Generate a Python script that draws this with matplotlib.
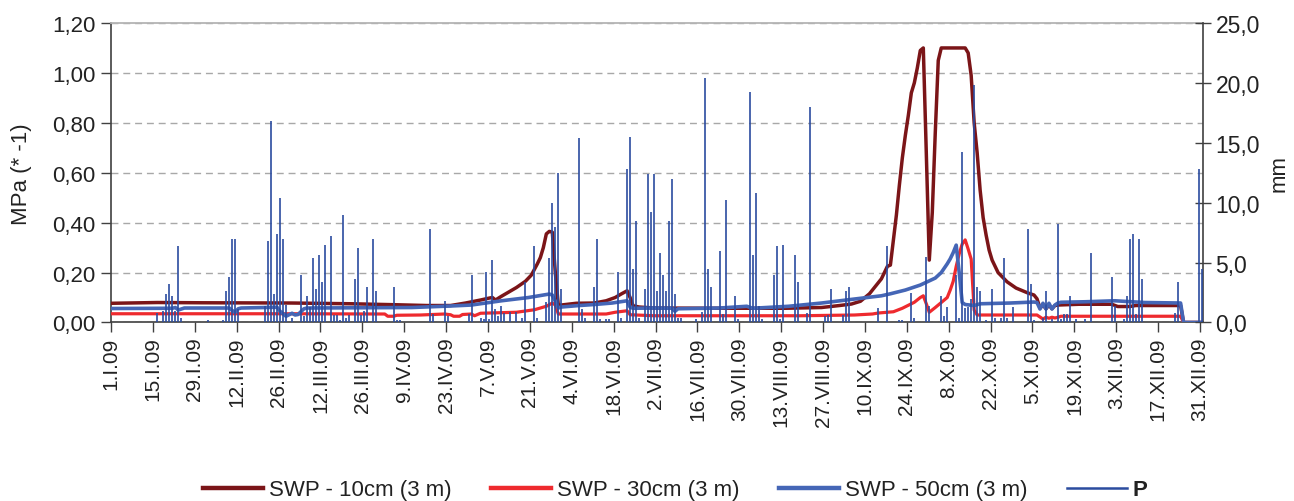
import matplotlib
matplotlib.use("Agg")
import matplotlib.pyplot as plt
from matplotlib.lines import Line2D
from matplotlib.ticker import FuncFormatter, MultipleLocator
import numpy as np

plt.rcParams["font.family"] = ["Liberation Sans", "DejaVu Sans"]

# x axis: day of year 2009 (0 = 1 January), one label every 14 days
tick_days = list(range(0, 365, 14))
tick_labels = ["1.I.09", "15.I.09", "29.I.09", "12.II.09", "26.II.09", "12.III.09",
               "26.III.09", "9.IV.09", "23.IV.09", "7.V.09", "21.V.09", "4.VI.09",
               "18.VI.09", "2.VII.09", "16.VII.09", "30.VII.09", "13.VIII.09",
               "27.VIII.09", "10.IX.09", "24.IX.09", "8.X.09", "22.X.09", "5.XI.09",
               "19.XI.09", "3.XII.09", "17.XII.09", "31.XII.09"]

# soil water potential, MPa (* -1), (day, value)
swp10 = [(0, 0.077), (15, 0.080), (30, 0.079), (60, 0.078), (80, 0.075), (95, 0.071),
         (105, 0.068), (113, 0.068), (118, 0.078), (123, 0.090), (126, 0.098), (127, 0.100),
         (128, 0.090), (130, 0.105), (135, 0.140), (138, 0.165), (140, 0.190), (142, 0.235),
         (143, 0.260), (144, 0.300), (145, 0.355), (146, 0.365), (147, 0.362), (148, 0.200),
         (149, 0.070), (150, 0.070), (155, 0.077), (161, 0.078), (165, 0.087), (168, 0.100),
         (170, 0.114), (172, 0.127), (173, 0.100), (174, 0.067), (176, 0.062), (181, 0.058),
         (203, 0.057), (225, 0.057), (237, 0.060), (243, 0.068), (247, 0.074), (250, 0.085),
         (253, 0.115), (256, 0.160), (257, 0.175), (258, 0.200), (259, 0.225), (260, 0.230),
         (261, 0.330), (262, 0.430), (263, 0.550), (264, 0.660), (265, 0.750), (266, 0.830),
         (267, 0.920), (268, 0.960), (269, 1.020), (270, 1.090), (271, 1.100), (272, 0.680),
         (273, 0.250), (274, 0.440), (275, 0.760), (276, 1.050), (277, 1.100), (285, 1.100),
         (286, 1.080), (287, 0.990), (288, 0.800), (289, 0.680), (290, 0.530), (291, 0.420),
         (292, 0.350), (293, 0.290), (294, 0.250), (296, 0.200), (299, 0.163), (302, 0.138),
         (306, 0.118), (308, 0.110), (309, 0.095), (310, 0.058), (311, 0.070), (312, 0.055),
         (313, 0.070), (314, 0.055), (315, 0.068), (316, 0.070), (323, 0.073), (334, 0.073),
         (336, 0.064), (340, 0.064), (342, 0.068), (357, 0.068), (358, 0.0), (364, 0.0)]

swp30 = [(0, 0.035), (30, 0.035), (60, 0.035), (91, 0.034), (92, 0.025), (94, 0.025),
         (95, 0.029), (103, 0.030), (111, 0.034), (113, 0.031), (114, 0.025), (116, 0.025),
         (117, 0.032), (120, 0.034), (121, 0.027), (123, 0.037), (135, 0.041), (141, 0.051),
         (145, 0.065), (147, 0.078), (148, 0.070), (149, 0.034), (150, 0.034), (165, 0.034),
         (168, 0.041), (170, 0.044), (172, 0.047), (173, 0.031), (181, 0.027), (230, 0.027),
         (248, 0.030), (254, 0.034), (256, 0.038), (261, 0.043), (264, 0.057), (268, 0.081),
         (270, 0.100), (271, 0.107), (272, 0.075), (273, 0.041), (275, 0.060), (277, 0.080),
         (279, 0.100), (280, 0.130), (281, 0.165), (282, 0.225), (283, 0.275), (284, 0.314),
         (285, 0.331), (286, 0.294), (287, 0.254), (288, 0.050), (289, 0.030), (300, 0.030),
         (309, 0.030), (310, 0.022), (311, 0.014), (312, 0.021), (313, 0.017), (314, 0.021),
         (315, 0.018), (316, 0.021), (317, 0.025), (357, 0.025), (358, 0.0), (364, 0.0)]

swp50 = [(0, 0.056), (20, 0.057), (21, 0.060), (22, 0.050), (24, 0.058), (39, 0.058),
         (40, 0.048), (41, 0.041), (42, 0.055), (43, 0.058), (55, 0.061), (56, 0.045),
         (58, 0.025), (60, 0.037), (61, 0.030), (62, 0.032), (64, 0.055), (65, 0.058),
         (100, 0.060), (113, 0.066), (120, 0.070), (130, 0.087), (139, 0.100), (146, 0.114),
         (147, 0.110), (148, 0.085), (149, 0.058), (150, 0.062), (156, 0.068), (161, 0.072),
         (167, 0.078), (172, 0.087), (173, 0.061), (174, 0.057), (181, 0.058), (187, 0.057),
         (188, 0.045), (189, 0.055), (203, 0.058), (212, 0.065), (214, 0.057), (226, 0.065),
         (237, 0.078), (248, 0.094), (257, 0.107), (260, 0.115), (265, 0.130), (270, 0.150),
         (275, 0.178), (277, 0.200), (279, 0.235), (280, 0.255), (281, 0.280), (282, 0.310),
         (283, 0.200), (284, 0.080), (285, 0.072), (288, 0.068), (290, 0.075), (300, 0.078),
         (308, 0.082), (309, 0.080), (310, 0.054), (311, 0.077), (312, 0.054), (313, 0.077),
         (314, 0.054), (315, 0.070), (316, 0.078), (317, 0.081), (325, 0.083), (335, 0.087),
         (345, 0.080), (357, 0.078), (358, 0.0), (364, 0.0)]

# daily precipitation P, mm (day, value)
precip = [(15, 0.8), (17, 1.0), (18, 2.4), (19, 3.2), (20, 2.2), (21, 1.0), (22, 6.4),
          (23, 0.4), (32, 0.2), (37, 0.2), (38, 2.6), (39, 3.8), (40, 7.0), (41, 7.0),
          (42, 1.1), (51, 1.4), (52, 6.8), (53, 16.8), (54, 2.4), (55, 7.4), (56, 10.4),
          (57, 7.0), (58, 1.5), (60, 0.4), (63, 4.0), (64, 0.5), (65, 2.2), (66, 1.3),
          (67, 5.4), (68, 2.8), (69, 5.6), (70, 3.4), (71, 6.5), (73, 7.2), (74, 0.6),
          (75, 0.6), (76, 0.2), (77, 9.0), (78, 0.4), (79, 0.6), (81, 3.6), (82, 6.2),
          (83, 0.6), (84, 1.0), (85, 3.0), (87, 7.0), (88, 2.6), (94, 3.0), (95, 0.2),
          (96, 0.2), (106, 7.8), (107, 0.7), (111, 1.8), (112, 0.5), (119, 0.7), (120, 4.0),
          (123, 0.4), (124, 0.3), (125, 4.2), (126, 0.3), (127, 5.2), (128, 1.1), (129, 0.5),
          (130, 1.4), (131, 0.8), (133, 0.9), (135, 0.9), (137, 0.4), (138, 3.4), (141, 6.4),
          (142, 0.4), (145, 1.7), (146, 5.4), (147, 10.0), (148, 8.0), (149, 12.5), (150, 2.8),
          (156, 15.4), (157, 1.1), (158, 0.4), (161, 3.0), (162, 7.0), (163, 0.3), (165, 0.3),
          (166, 0.3), (169, 4.2), (170, 0.4), (172, 12.8), (173, 15.5), (174, 4.5), (175, 8.5),
          (176, 0.4), (178, 2.8), (179, 12.4), (180, 9.2), (181, 12.4), (182, 2.6), (183, 5.8),
          (184, 4.0), (185, 2.6), (186, 8.5), (187, 12.0), (188, 2.4), (189, 0.4), (190, 0.4),
          (195, 0.3), (197, 0.9), (198, 20.4), (199, 4.5), (200, 3.0), (203, 6.0), (204, 0.7),
          (205, 10.2), (208, 2.2), (209, 0.3), (213, 19.2), (214, 5.6), (215, 10.8), (216, 1.4),
          (217, 0.3), (221, 4.0), (222, 6.4), (223, 0.3), (224, 6.5), (228, 5.6), (229, 3.4),
          (232, 0.8), (233, 18.0), (238, 0.5), (239, 0.6), (240, 2.8), (244, 0.6), (245, 2.6),
          (246, 3.0), (256, 1.2), (259, 6.4), (263, 0.2), (264, 0.2), (267, 2.5), (268, 0.4),
          (272, 5.5), (273, 1.4), (277, 2.2), (278, 0.5), (279, 1.3), (282, 4.0), (283, 0.4),
          (284, 14.2), (285, 1.2), (286, 1.3), (287, 2.0), (288, 19.8), (289, 3.0), (290, 2.6),
          (292, 0.2), (294, 2.8), (295, 0.4), (297, 0.4), (298, 5.4), (299, 0.4), (301, 1.3),
          (306, 7.8), (307, 3.2), (308, 0.2), (311, 0.4), (312, 2.6), (314, 0.3), (316, 8.2),
          (317, 0.3), (318, 0.7), (319, 0.7), (320, 2.2), (322, 0.3), (325, 0.3), (327, 5.8),
          (334, 3.8), (335, 1.4), (338, 0.3), (339, 2.2), (340, 7.0), (341, 7.4), (342, 0.7),
          (343, 7.0), (344, 3.6), (355, 0.8), (356, 3.4), (363, 12.8), (364, 4.5)]

series_names = ["SWP - 10cm (3 m)", "SWP - 30cm (3 m)", "SWP - 50cm (3 m)", "P"]
c_swp10 = "#7b1518"
c_swp30 = "#ee2a2e"
c_swp50 = "#4566b6"
c_p = "#2b4c9f"
axis_col = "#404040"
text_col = "#222222"

fig = plt.figure(figsize=(12.94, 5.02), dpi=100)
ax = fig.add_axes([0.0858, 0.3556, 0.8439, 0.5966])

for data, col, lw in [(swp10, c_swp10, 2.5), (swp30, c_swp30, 2.3), (swp50, c_swp50, 2.6)]:
    d, v = zip(*data)
    ax.plot(np.array(d) + 0.5, v, color=col, lw=lw, solid_joinstyle="round", zorder=3)

ax.set_xlim(0, 365)
ax.set_ylim(0, 1.2)
ax.yaxis.set_major_locator(MultipleLocator(0.2))
ax.yaxis.set_major_formatter(FuncFormatter(lambda v, p: f"{v:.2f}".replace(".", ",")))
ax.set_xticks(tick_days)
ax.set_xticklabels(tick_labels, rotation=90)
ax.grid(axis="y", color="#a8a8a8", lw=1.0, ls=(0, (5, 3.5)))
ax.set_axisbelow(True)

ax.tick_params(axis="y", direction="out", length=7, width=1, color=axis_col,
               labelsize=16, labelcolor=text_col, pad=4)
ax.tick_params(axis="x", direction="out", length=7, width=1, color=axis_col,
               labelsize=15, labelcolor=text_col, pad=3)
for s in ["left", "bottom"]:
    ax.spines[s].set_color(axis_col)
    ax.spines[s].set_linewidth(1.2)
ax.spines["top"].set_color("#b4b4b4")
ax.spines["top"].set_linewidth(1.3)
ax.spines["right"].set_visible(False)

ax.set_ylabel("MPa (* -1)", fontsize=16, color=text_col)
ax.yaxis.set_label_coords(-0.072, 0.5)

# precipitation on the secondary axis
ax2 = ax.twinx()
pd_, pv = zip(*precip)
ax2.vlines(np.array(pd_) + 0.5, 0, pv, color=c_p, lw=1.2, zorder=4)
ax2.set_ylim(0, 25)
ax2.yaxis.set_major_locator(MultipleLocator(5))
ax2.yaxis.set_major_formatter(FuncFormatter(lambda v, p: f"{v:.1f}".replace(".", ",")))
ax2.tick_params(axis="y", direction="inout", length=12, width=1, color=axis_col,
                labelsize=16.5, labelcolor=text_col, pad=3)
for s in ["left", "top", "bottom"]:
    ax2.spines[s].set_visible(False)
ax2.spines["right"].set_color(axis_col)
ax2.spines["right"].set_linewidth(1.2)
ax2.set_ylabel("mm", fontsize=16, color=text_col)
ax2.yaxis.set_label_coords(1.06, 0.5)

handles = [Line2D([], [], color=c_swp10, lw=3.2),
           Line2D([], [], color=c_swp30, lw=3.2),
           Line2D([], [], color=c_swp50, lw=3.2),
           Line2D([], [], color=c_p, lw=1.8)]
leg = fig.legend(handles, series_names, loc="center", bbox_to_anchor=(0.522, 0.022),
                 ncol=4, frameon=False, fontsize=16, handlelength=2.7,
                 handletextpad=0.25, columnspacing=1.8)
for t in leg.get_texts():
    t.set_color(text_col)
leg.get_texts()[3].set_fontweight("bold")

fig.savefig("out.png", dpi=100)
